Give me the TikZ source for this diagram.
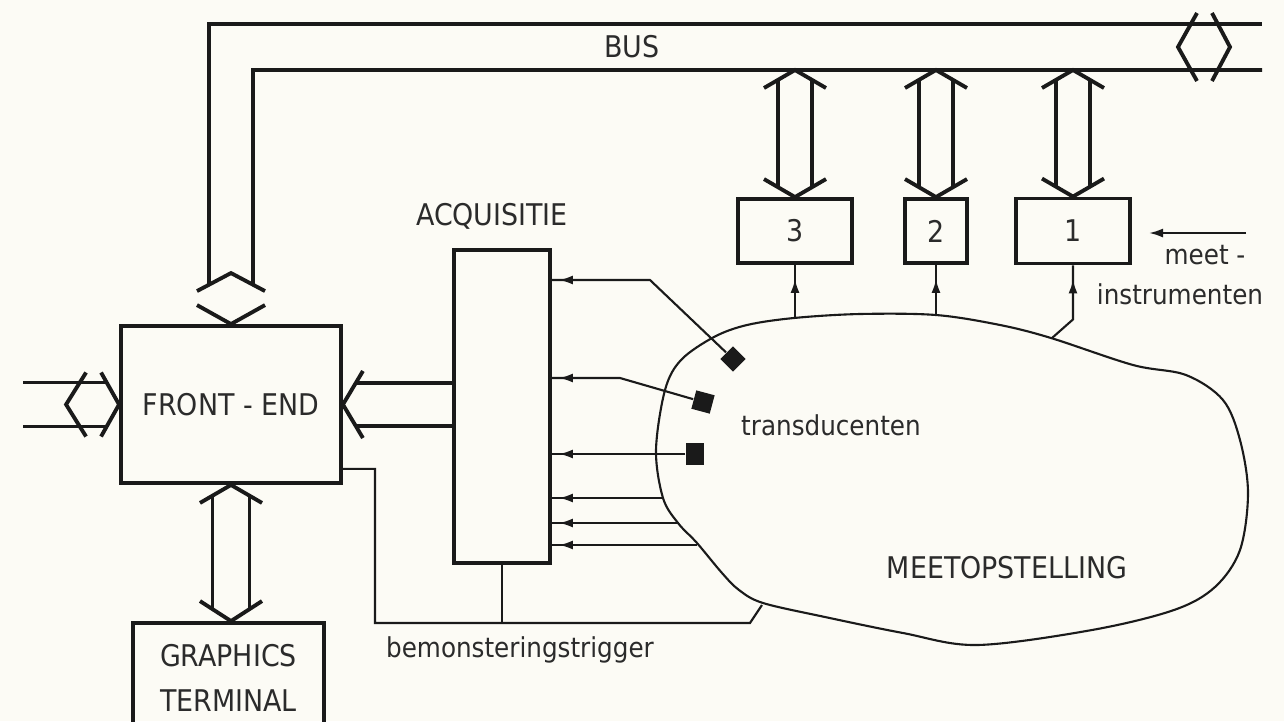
\documentclass[tikz,border=0pt]{standalone}
\usepackage{fontspec}
\setmainfont{DejaVu Sans Condensed}
\usetikzlibrary{calc, arrows.meta, decorations.markings}
\definecolor{paper}{HTML}{FCFBF5}
\definecolor{ink}{HTML}{1A1A1A}
\definecolor{txt}{HTML}{2B2B2B}

\begin{document}
\begin{tikzpicture}[x=1cm, y=-1cm,
  every node/.style={font=\fontsize{8.5}{12.8}\selectfont, text=txt},
  small/.style={font=\fontsize{7.8}{10}\selectfont},
  blok/.style={draw=ink, line width=1.1pt, inner sep=0pt},
  wide/.style={draw=ink, line width=1.1pt},
  wire/.style={draw=ink, line width=0.6pt},
  sig/.style={wire, postaction={decorate},
    decoration={markings, mark=at position -#1 with {\arrow{Latex[length=1.4mm, width=0.9mm]}}}},
  sig/.default=0.07cm,
  tdc/.style={fill=ink, inner sep=0pt, minimum size=0.18cm}]
  % ── Paper (1284 x 721 px, 1 px = 0.01 cm, y downwards) ──────────────────
  \useasboundingbox (0,0) rectangle (12.84,7.21);
  \fill[paper] (0,0) rectangle (12.84,7.21);

  % ── Blocks ──────────────────────────────────────────────────────────────
  \node[blok, minimum width=2.20cm, minimum height=1.57cm] (fe) at (2.31,4.045) {FRONT - END};
  \node[blok, minimum width=0.96cm, minimum height=3.13cm] (acq) at (5.02,4.065) {};
  \node[blok, minimum width=1.91cm, minimum height=1.10cm, align=center] (gt) at (2.285,6.78) {GRAPHICS\\TERMINAL};
  \node[blok, minimum width=1.14cm, minimum height=0.64cm] (m3) at (7.95,2.31) {3};
  \node[blok, minimum width=0.62cm, minimum height=0.64cm] (m2) at (9.36,2.31) {2};
  \node[blok, minimum width=1.14cm, minimum height=0.65cm] (m1) at (10.73,2.31) {1};

  % ── Labels ──────────────────────────────────────────────────────────────
  \node (buslbl) at (6.32,0.47) {BUS};
  \node (acqlbl) at (4.92,2.16) {ACQUISITIE};
  \node[small] (tdlbl)  at (8.31,4.25) {transducenten};
  \node (mslbl)  at (10.07,5.68) {MEETOPSTELLING};
  \node[small] (trglbl) at (5.20,6.50) {bemonsteringstrigger};
  \node[small] (meetlbl) at (12.05,2.55) {meet -};
  \node[small] (instlbl) at (11.80,2.94) {instrumenten};

  % ── Bus (wide double line) ──────────────────────────────────────────────
  \coordinate (feup) at ($(fe.north)+(0,-0.51)$);
  \draw[wide] ($(feup)+(-0.22,0.116)$) -- (2.09,0.24) -- (12.62,0.24);
  \draw[wide] ($(feup)+(0.22,0.116)$) -- (2.53,0.70) -- (12.62,0.70);
  \draw[wide] ($(feup)+(-0.34,0.18)$) -- (feup) -- ($(feup)+(0.34,0.18)$);
  \draw[wide] ($(fe.north)+(-0.34,-0.19)$) -- (fe.north) -- ($(fe.north)+(0.34,-0.19)$);
  % bus continues to the right
  \draw[wide] (11.97,0.13) -- (11.78,0.47) -- (11.97,0.81);
  \draw[wide] (12.12,0.13) -- (12.30,0.47) -- (12.12,0.81);

  % ── Bus to the instruments ──────────────────────────────────────────────
  \foreach \m in {m3,m2,m1}{
    \coordinate (top) at (\m.north |- 0,0.70);
    \draw[wide] ($(top)+(-0.31,0.18)$) -- (top) -- ($(top)+(0.31,0.18)$);
    \draw[wide] ($(\m.north)+(-0.31,-0.18)$) -- (\m.north) -- ($(\m.north)+(0.31,-0.18)$);
    \foreach \s in {-1,1}
      \draw[wide] ($(top)+(\s*0.17,0.099)$) -- ($(\m.north)+(\s*0.17,-0.099)$);
  }

  % ── Outside world into FRONT-END ────────────────────────────────────────
  \draw[wide] ($(fe.west)+(-0.33,-0.32)$) -- ($(fe.west)+(-0.53,0)$) -- ($(fe.west)+(-0.33,0.32)$);
  \draw[wide] ($(fe.west)+(-0.18,-0.32)$) -- (fe.west) -- ($(fe.west)+(-0.18,0.32)$);
  \foreach \s in {-1,1}
    \draw[wide] ($(fe.west)+(-0.96,\s*0.22)$) -- ($(fe.west)+(-0.124,\s*0.22)$);

  % ── ACQUISITIE into FRONT-END ───────────────────────────────────────────
  \draw[wide] ($(fe.east)+(0.20,-0.335)$) -- (fe.east) -- ($(fe.east)+(0.20,0.335)$);
  \foreach \s in {-1,1}
    \draw[wide] ($(fe.east)+(0.128,\s*0.215)$) coordinate (a) -- (a -| acq.west);

  % ── FRONT-END to GRAPHICS TERMINAL ──────────────────────────────────────
  \coordinate (gtin) at (fe.south |- gt.north);
  \draw[wide] ($(fe.south)+(-0.31,0.18)$) -- (fe.south) -- ($(fe.south)+(0.31,0.18)$);
  \draw[wide] ($(gtin)+(-0.31,-0.20)$) -- (gtin) -- ($(gtin)+(0.31,-0.20)$);
  \foreach \s in {-1,1}
    \draw[wide] ($(fe.south)+(\s*0.185,0.107)$) -- ($(gtin)+(\s*0.185,-0.119)$);

  % ── MEETOPSTELLING ──────────────────────────────────────────────────────
  \draw[wire] plot[smooth cycle, tension=0.55] coordinates {
    (7.47,3.25) (7.94,3.18) (8.60,3.14) (9.36,3.15) (10.00,3.25) (10.51,3.38)
    (11.33,3.65) (11.86,3.75) (12.23,4.00) (12.40,4.40) (12.48,4.93) (12.40,5.50)
    (12.15,5.87) (11.74,6.10) (10.92,6.30) (9.77,6.45) (9.03,6.33) (8.25,6.17)
    (7.63,6.03) (7.39,5.90) (7.22,5.73) (6.97,5.43) (6.78,5.23) (6.63,4.98)
    (6.56,4.50) (6.65,3.90) (6.81,3.60) (7.14,3.37)};

  % transducers
  \node[tdc, rotate=45] (t1) at (7.33,3.59) {};
  \node[tdc, rotate=-15, minimum size=0.19cm] (t2) at (7.03,4.02) {};
  \node[tdc, minimum width=0.18cm, minimum height=0.22cm] (t3) at (6.95,4.54) {};

  % ── Signals into ACQUISITIE ─────────────────────────────────────────────
  \coordinate (k1) at (6.50,2.80);
  \coordinate (k2) at (6.20,3.78);
  \draw[sig] (t1) -- (k1) -- (k1 -| acq.east);
  \draw[sig] (t2) -- (k2) -- (k2 -| acq.east);
  \draw[sig] (t3) -- (t3 -| acq.east);
  \foreach \n/\x/\y in {b4/6.63/4.98, b5/6.78/5.23, b6/6.97/5.45}{
    \coordinate (\n) at (\x,\y);
    \draw[sig] (\n) -- (\n -| acq.east);
  }

  % ── Signals to the instruments ──────────────────────────────────────────
  \coordinate (s3) at (7.95,3.18);
  \coordinate (s2) at (9.36,3.15);
  \coordinate (s1) at (10.52,3.38);
  \draw[sig=0.14cm] (s3) -- (m3.south);
  \draw[sig=0.14cm] (s2) -- (m2.south);
  \draw[sig=0.14cm] (s1) -- ($(m1.south)+(0,0.54)$) -- (m1.south);
  \coordinate (mi0) at (12.46,2.33);
  \coordinate (mi1) at (11.49,2.33);
  \draw[wire, -{Latex[length=1.4mm, width=0.9mm]}] (mi0) -- (mi1);

  % ── Sampling trigger ────────────────────────────────────────────────────
  \coordinate (tr0) at ($(fe.south east)+(0,-0.16)$);
  \coordinate (tr1) at (3.75,6.23);
  \coordinate (tr2) at (7.50,6.23);
  \coordinate (tr3) at (7.62,6.05);
  \draw[wire] (tr0) -| (tr1) -- (tr2) -- (tr3);
  \draw[wire] (acq.south) -- (acq.south |- tr1);
\end{tikzpicture}
\end{document}
